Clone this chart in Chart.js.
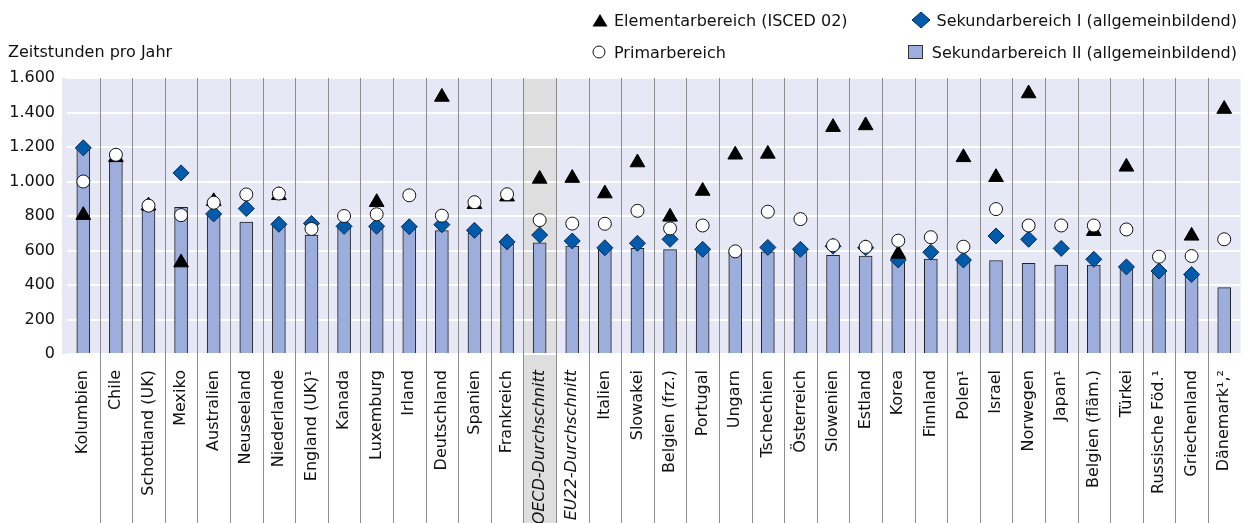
<!DOCTYPE html>
<html>
<head>
<meta charset="utf-8">
<script src="https://cdn.jsdelivr.net/npm/chart.js@4/dist/chart.umd.min.js"></script>
<style>
  html, body { margin: 0; padding: 0; background: #fff; overflow: hidden; }
  #wrap { position: relative; width: 1250px; height: 523px; }
  #title { position: absolute; left: 8px; top: 42px; font: 16px 'DejaVu Sans'; color: #111; }
  .leg { position: absolute; font: 16px 'DejaVu Sans'; color: #111; display: flex; align-items: center; white-space: nowrap; height: 20px; }
  .leg svg { margin-right: 6px; }
</style>
</head>
<body>
<div id="wrap">
  <canvas id="chart" width="1250" height="523"></canvas>
  <div id="title">Zeitstunden pro Jahr</div>
  <div class="leg" style="left:592px; top:10px;">
    <svg width="16" height="14"><polygon points="8,1 15.5,13.5 0.5,13.5" fill="#000"/></svg>Elementarbereich (ISCED 02)
  </div>
  <div class="leg" style="left:592px; top:42px;">
    <svg width="16" height="14"><circle cx="7" cy="7" r="6" fill="#fff" stroke="#111" stroke-width="1"/></svg>Primarbereich
  </div>
  <div class="leg" style="right:13px; top:10px;">
    <svg width="20" height="18"><polygon points="10,1 19,9 10,17 1,9" fill="#005BAA" stroke="#0a2a55" stroke-width="1"/></svg>Sekundarbereich I (allgemeinbildend)
  </div>
  <div class="leg" style="right:13px; top:42px;">
    <svg width="20" height="16"><rect x="2.5" y="1.5" width="14" height="13" fill="#9DADDC" stroke="#333" stroke-width="1"/></svg>Sekundarbereich II (allgemeinbildend)
  </div>
</div>
<script>
const categories = [
  'Kolumbien', 'Chile', 'Schottland (UK)', 'Mexiko', 'Australien', 'Neuseeland',
  'Niederlande', 'England (UK)\u00B9', 'Kanada', 'Luxemburg', 'Irland', 'Deutschland',
  'Spanien', 'Frankreich', 'OECD-Durchschnitt', 'EU22-Durchschnitt', 'Italien', 'Slowakei',
  'Belgien (frz.)', 'Portugal', 'Ungarn', 'Tschechien', '\u00D6sterreich', 'Slowenien',
  'Estland', 'Korea', 'Finnland', 'Polen\u00B9', 'Israel', 'Norwegen',
  'Japan\u00B9', 'Belgien (fl\u00E4m.)', 'T\u00FCrkei', 'Russische F\u00F6d.\u00B9', 'Griechenland', 'D\u00E4nemark\u00B9,\u00B2'
];

// Elementarbereich (ISCED 02) – Dreiecke
const elementar = [
  805, 1140, 860, 530, 885, null,
  920, null, null, 880, null, 1490,
  868, 912, 1015, 1020, 930, 1110,
  795, 945, 1155, 1160, null, 1315,
  1325, 580, null, 1140, 1025, 1510,
  null, 712, 1085, null, 685, 1420
];
// Primarbereich – Kreise
const primar = [
  1000, 1155, 860, 805, 877, 925,
  930, 725, 800, 810, 920, 802,
  880, 926, 776, 756, 755, 830,
  728, 745, 595, 825, 782, 630,
  621, 657, 677, 622, 840, 745,
  745, 745, 722, 564, 568, 665
];
// Sekundarbereich I – Rauten
const sekI = [
  1195, null, null, 1050, 812, 843,
  752, 757, 740, 740, 738, 750,
  717, 650, 690, 655, 616, 642,
  665, 607, null, 618, 607, 625,
  616, 545, 590, 545, 684, 665,
  612, 549, 505, 481, 461, null
];
// Sekundarbereich II – Balken
const sekII = [
  1190, 1120, 835, 850, 805, 765,
  745, 690, 738, 738, 735, 715,
  700, 643, 645, 625, 612, 612,
  605, 603, 592, 592, 592, 572,
  568, 555, 550, 545, 542, 525,
  515, 515, 502, 475, 455, 385
];
const yTicks = [0, 200, 400, 600, 800, 1000, 1200, 1400, 1600];
const averageIndex = [14, 15];
const oecdIndex = 14;

const backdrop = {
  id: 'backdrop',
  beforeDraw(chart) {
    const { ctx, chartArea, scales } = chart;
    const w = scales.x.getPixelForValue(1) - scales.x.getPixelForValue(0);
    ctx.save();
    ctx.fillStyle = '#E6E8F5';
    ctx.fillRect(chartArea.left - 5, chartArea.top, chartArea.right - chartArea.left + 5, chartArea.bottom - chartArea.top);
    const ox = scales.x.getPixelForValue(oecdIndex) - w / 2;
    ctx.fillStyle = '#DEDEDE';
    ctx.fillRect(ox, chartArea.top, w, chart.height - chartArea.top);
    ctx.restore();
  },
  beforeDatasetsDraw(chart) {
    const { ctx, chartArea, scales } = chart;
    const w = scales.x.getPixelForValue(1) - scales.x.getPixelForValue(0);
    ctx.save();
    ctx.strokeStyle = '#8C8C8C';
    ctx.lineWidth = 1;
    for (let i = 1; i < categories.length; i++) {
      const x = Math.round(scales.x.getPixelForValue(i) - w / 2) + 0.5;
      ctx.beginPath();
      ctx.moveTo(x, chartArea.top);
      ctx.lineTo(x, chart.height);
      ctx.stroke();
    }
    ctx.restore();
  }
};

new Chart(document.getElementById('chart'), {
  type: 'bar',
  data: {
    labels: categories,
    datasets: [
      {
        type: 'line', label: 'Primarbereich', data: primar, showLine: false,
        pointStyle: 'circle', pointRadius: 6.5, pointBackgroundColor: '#fff',
        pointBorderColor: '#111', pointBorderWidth: 1, order: 1
      },
      {
        type: 'line', label: 'Elementarbereich (ISCED 02)', data: elementar, showLine: false,
        pointStyle: 'triangle', pointRadius: 8.5, pointBackgroundColor: '#000',
        pointBorderColor: '#000', pointBorderWidth: 1, order: 2
      },
      {
        type: 'line', label: 'Sekundarbereich I (allgemeinbildend)', data: sekI, showLine: false,
        pointStyle: 'rectRot', pointRadius: 8, pointBackgroundColor: '#005BAA',
        pointBorderColor: '#0a2a55', pointBorderWidth: 1, order: 3
      },
      {
        type: 'bar', label: 'Sekundarbereich II (allgemeinbildend)', data: sekII,
        backgroundColor: '#9DADDC', borderColor: '#222', borderWidth: 1,
        barThickness: 13, order: 4
      }
    ]
  },
  options: {
    responsive: false,
    animation: false,
    devicePixelRatio: 1,
    layout: { padding: { top: 78, left: 0, right: 0, bottom: 0 } },
    plugins: {
      legend: { display: false },
      tooltip: { enabled: false }
    },
    scales: {
      x: {
        offset: true,
        grid: { display: false },
        border: { display: false },
        afterFit(axis) {
          axis.height = 169;
          axis.paddingLeft = 0;
          axis.paddingRight = 0;
        },
        ticks: {
          autoSkip: false,
          minRotation: 90,
          maxRotation: 90,
          padding: 8,
          color: '#111',
          font: (c) => ({
            family: 'DejaVu Sans',
            size: 16,
            style: averageIndex.includes(c.index) ? 'italic' : 'normal'
          })
        }
      },
      y: {
        min: yTicks[0],
        max: yTicks[yTicks.length - 1],
        afterFit(axis) { axis.width = 67; },
        afterBuildTicks(axis) { axis.ticks = yTicks.map(v => ({ value: v })); },
        grid: { color: '#fff', lineWidth: 2, drawTicks: false },
        border: { display: false },
        ticks: {
          padding: 12,
          color: '#111',
          font: { family: 'DejaVu Sans', size: 16 },
          callback: (v) => v.toLocaleString('de-DE')
        }
      }
    }
  },
  plugins: [backdrop]
});
</script>
</body>
</html>
